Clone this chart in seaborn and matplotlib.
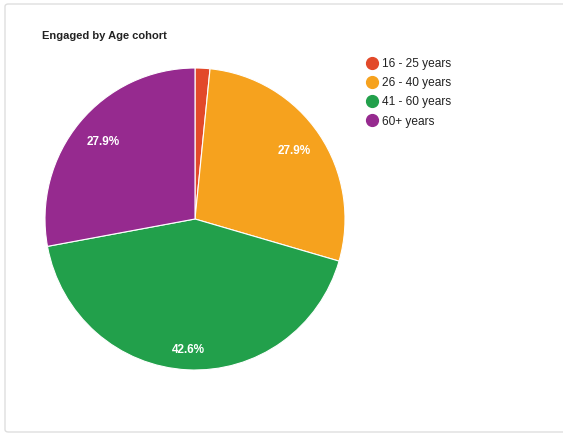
import numpy as np
import matplotlib
matplotlib.use("Agg")
import matplotlib.pyplot as plt
import seaborn as sns
from matplotlib.lines import Line2D
from matplotlib.patches import FancyBboxPatch

# data
cohorts = ["16 - 25 years", "26 - 40 years", "41 - 60 years", "60+ years"]
shares = [1.6, 27.9, 42.6, 27.9]
colors = ["#e2492a", "#f6a21e", "#22a04b", "#962a8f"]

sns.set_theme(style="white")
plt.rcParams["font.family"] = ["Liberation Sans", "DejaVu Sans"]

W, H = 563, 434
fig = plt.figure(figsize=(W / 100, H / 100), dpi=100)

# card border (behind everything)
card = FancyBboxPatch((5 / W, 2 / H), 600 / W, 428 / H,
                      boxstyle="round,pad=0,rounding_size=0.006",
                      transform=fig.transFigure, facecolor="white",
                      edgecolor="#dedede", linewidth=1.0, zorder=-5)
fig.patches.append(card)

ax = fig.add_axes([45 / W, (H - 370) / H, 300 / W, 302 / H])
ax.set_zorder(2)
ax.patch.set_visible(False)
wedges, texts, autotexts = ax.pie(
    shares, colors=colors, startangle=90, counterclock=False,
    autopct=lambda p: f"{p:.1f}%" if p > 5 else "", pctdistance=0.8,
    wedgeprops=dict(edgecolor="white", linewidth=0.8),
    textprops=dict(color="white", fontsize=8.5, fontweight="bold"),
)
# the biggest slice's label sits a bit further out
big = int(np.argmax(shares))
w = wedges[big]
mid = np.deg2rad((w.theta1 + w.theta2) / 2)
autotexts[big].set_position((0.87 * np.cos(mid), 0.87 * np.sin(mid)))

ax.set_xlim(-1, 1)
ax.set_ylim(-1, 1)
ax.set_aspect("auto")
ax.axis("off")

fig.text(42 / W, 1 - 36 / H, "Engaged by Age cohort", fontsize=8,
         fontweight="bold", color="#222222", va="center", ha="left")

handles = [Line2D([0], [0], marker="o", linestyle="", markersize=8.5,
                  markerfacecolor=c, markeredgecolor=c) for c in colors]
fig.legend(handles, cohorts, loc="upper left",
           bbox_to_anchor=(367 / W, 1 - 58 / H), frameon=False,
           fontsize=8.6, labelspacing=0.6, handlelength=0.8,
           handletextpad=0.45, borderaxespad=0, borderpad=0,
           labelcolor="#222222")

fig.savefig("out.png", dpi=100)
